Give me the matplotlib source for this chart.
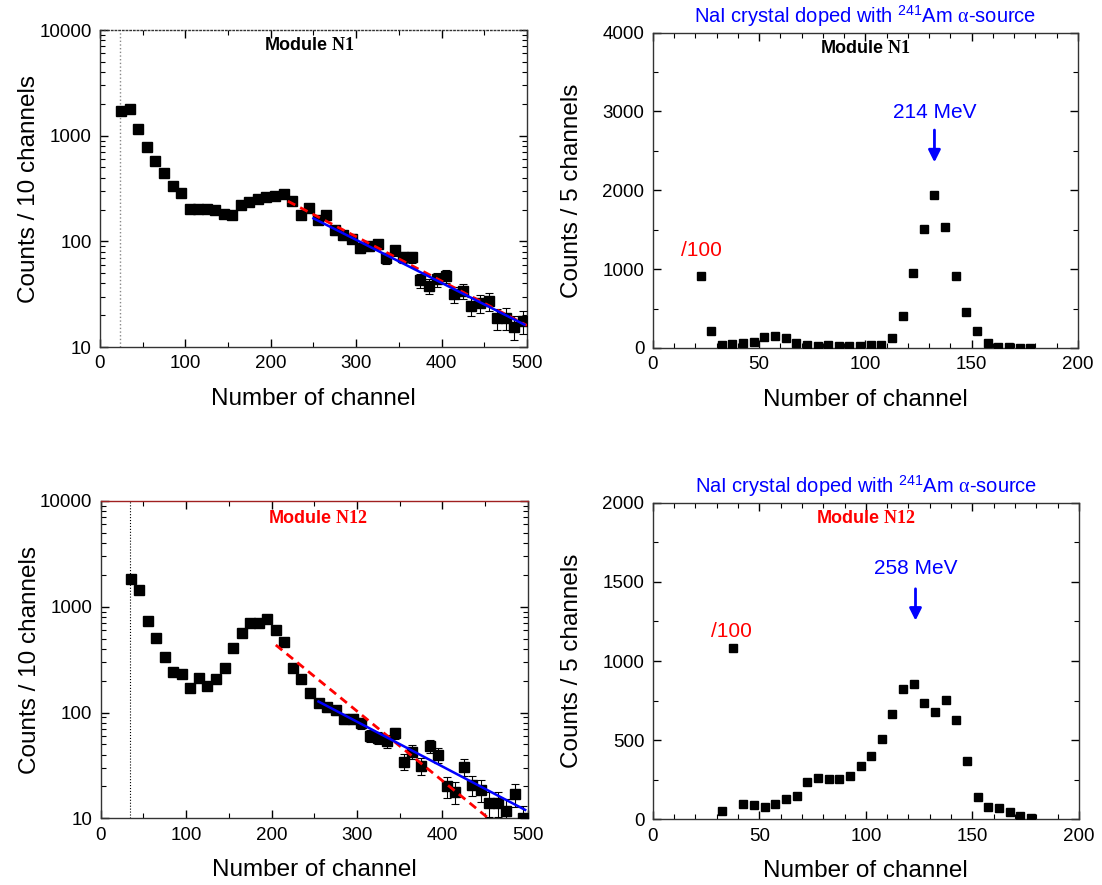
import matplotlib
matplotlib.use("Agg")
import matplotlib.pyplot as plt
from matplotlib.ticker import MultipleLocator, NullFormatter, LogLocator
import numpy as np

plt.rcParams['font.family'] = ['Liberation Sans', 'DejaVu Sans']
plt.rcParams['mathtext.fontset'] = 'custom'
plt.rcParams['mathtext.rm'] = 'Liberation Sans'
plt.rcParams['mathtext.it'] = 'Liberation Serif'
plt.rcParams['mathtext.bf'] = 'Liberation Serif:bold'

# Module N1, counts / 10 channels
ch1 = np.arange(25, 500, 10)
cnt1 = [1710, 1770, 1145, 780, 570, 440, 332, 287, 202, 203, 203, 198,
        180, 179, 223, 236, 250, 263, 269, 283, 239, 179, 208, 158, 176,
        127, 114, 106, 87, 90, 94, 70, 82, 71, 71, 43, 38, 44, 47, 31.5,
        34, 24.7, 26, 27, 18.8, 19, 15.6, 17.6]
fit1_red_x, fit1_red_y = [220, 500], [240, 16]
fit1_blue_x, fit1_blue_y = [250, 497], [165, 16.3]
cut1 = 23.5

# Module N1, counts / 5 channels (NaI + Am source)
ch2 = np.arange(22.5, 180, 5)
cnt2 = [910, 220, 38, 51, 67, 76, 135, 152, 123, 67, 38, 30, 38, 30, 30,
        30, 38, 38, 123, 406, 956, 1510, 1938, 1540, 914, 453, 212, 67,
        9, 9, 5, 5]
peak2_x, peak2_label = 132.5, '214 MeV'

# Module N12, counts / 10 channels
ch3 = np.arange(35, 500, 10)
cnt3 = [1830, 1430, 740, 505, 337, 244, 232, 170, 214, 180, 206, 262,
        408, 561, 708, 708, 762, 604, 468, 266, 206, 154, 124, 112, 106,
        86.5, 87.7, 79, 60, 58, 54, 64, 34.4, 42.5, 31.5, 48.3, 39.5, 20,
        17.9, 30.8, 20.7, 18.5, 13.9, 13.9, 11.8, 16.9, 10]
fit3_red_x, fit3_red_y = [205, 454], [435, 10]
fit3_blue_x, fit3_blue_y = [255, 497], [127, 12]
cut3 = 34

# Module N12, counts / 5 channels
ch4 = np.arange(32.5, 180, 5)
cnt4 = [52, 1080, 95, 88, 80, 95, 126, 149, 234, 263, 253, 255, 273, 337,
        402, 505, 665, 823, 853, 733, 680, 756, 627, 370, 143, 80, 69, 48,
        23, 6]
peak4_x, peak4_label = 123.3, '258 MeV'

title = 'NaI crystal doped with $^{241}$Am $\\alpha$-source'
fs_lab, fs_tick = 17.5, 13.5

fig = plt.figure(figsize=(11.02, 8.85), dpi=100)
ax1 = fig.add_axes([0.0907, 0.6079, 0.3875, 0.3582])
ax2 = fig.add_axes([0.5923, 0.6068, 0.3859, 0.3563])
ax3 = fig.add_axes([0.0914, 0.0754, 0.3875, 0.3585])
ax4 = fig.add_axes([0.5923, 0.0742, 0.3868, 0.3577])


def style(ax):
    ax.tick_params(which='both', direction='in', top=True, right=True,
                   labelsize=fs_tick, pad=6)
    ax.tick_params(which='major', length=6, width=1)
    ax.tick_params(which='minor', length=3.5, width=0.8)
    for s in ax.spines.values():
        s.set_color('#333333')
        s.set_linewidth(1)
    ax.set_xlabel('Number of channel', fontsize=fs_lab, labelpad=11)


def log_panel(ax, ch, cnt, red_x, red_y, blue_x, blue_y, cut, ylab):
    cnt = np.array(cnt)
    ax.errorbar(ch, cnt, yerr=np.sqrt(cnt), fmt='s', color='black',
                ms=7, elinewidth=0.8, capsize=3, capthick=0.8, zorder=3)
    ax.plot(red_x, red_y, color='red', ls=(0, (3, 2)), lw=2, zorder=4)
    ax.plot(blue_x, blue_y, color='blue', lw=1.8, zorder=5)
    ax.set_yscale('log')
    ax.set_xlim(0, 500)
    ax.set_ylim(10, 10000)
    ax.set_yticks([10, 100, 1000, 10000], ['10', '100', '1000', '10000'])
    ax.yaxis.set_minor_locator(LogLocator(subs=np.arange(2, 10)))
    ax.yaxis.set_minor_formatter(NullFormatter())
    ax.xaxis.set_major_locator(MultipleLocator(100))
    ax.xaxis.set_minor_locator(MultipleLocator(50))
    ax.set_ylabel(ylab, fontsize=fs_lab)
    ax.yaxis.set_label_coords(-0.14, 0.5)
    style(ax)


def lin_panel(ax, ch, cnt, ymax, ymaj, peak_x, peak_label, arrow_y, text_y,
              div_pos):
    ax.plot(ch, cnt, 's', color='black', ms=5.2, zorder=3)
    ax.set_xlim(0, 200)
    ax.set_ylim(0, ymax)
    ax.xaxis.set_major_locator(MultipleLocator(50))
    ax.xaxis.set_minor_locator(MultipleLocator(10))
    ax.yaxis.set_major_locator(MultipleLocator(ymaj))
    ax.yaxis.set_minor_locator(MultipleLocator(ymaj / 2))
    ax.set_ylabel('Counts / 5 channels', fontsize=fs_lab)
    ax.yaxis.set_label_coords(-0.164, 0.5)
    ax.annotate('', xy=(peak_x, arrow_y[1]), xytext=(peak_x, arrow_y[0]),
                arrowprops=dict(arrowstyle='-|>', color='blue', lw=2,
                                mutation_scale=18))
    ax.text(peak_x, text_y, peak_label, color='blue', fontsize=15,
            ha='center', va='bottom')
    ax.text(div_pos[0], div_pos[1], '/100', color='red', fontsize=15,
            ha='left', va='bottom')
    ax.text(0.5, 1.012, title, transform=ax.transAxes, color='blue',
            fontsize=14.5, ha='center', va='bottom')
    style(ax)


log_panel(ax1, ch1, cnt1, fit1_red_x, fit1_red_y, fit1_blue_x, fit1_blue_y,
          cut1, 'Counts / 10 channels')
ax1.axvline(cut1, color='#888888', ls=':', lw=1)
ax1.spines['top'].set_linestyle(':')
ax1.text(0.49, 0.95, r'Module $\mathbf{N1}$', transform=ax1.transAxes,
         fontsize=13, fontweight='bold', ha='center', va='center')

log_panel(ax3, ch3, cnt3, fit3_red_x, fit3_red_y, fit3_blue_x, fit3_blue_y,
          cut3, 'Counts / 10 channels')
ax3.axvline(cut3, color='black', ls=':', lw=0.8)
ax3.spines['top'].set_color('#a02020')
ax3.text(0.51, 0.945, r'Module $\mathbf{N12}$', transform=ax3.transAxes,
         fontsize=13, fontweight='bold', color='red', ha='center',
         va='center')

lin_panel(ax2, ch2, cnt2, 4000, 1000, peak2_x, peak2_label, (2800, 2320),
          2870, (13.3, 1110))
ax2.text(0.5, 0.95, r'Module $\mathbf{N1}$', transform=ax2.transAxes,
         fontsize=13, fontweight='bold', ha='center', va='center')

lin_panel(ax4, ch4, cnt4, 2000, 500, peak4_x, peak4_label, (1474, 1238),
          1525, (27.4, 1125))
ax4.text(0.5, 0.949, r'Module $\mathbf{N12}$', transform=ax4.transAxes,
         fontsize=13, fontweight='bold', color='red', ha='center',
         va='center')

fig.savefig('out.png', dpi=100)
